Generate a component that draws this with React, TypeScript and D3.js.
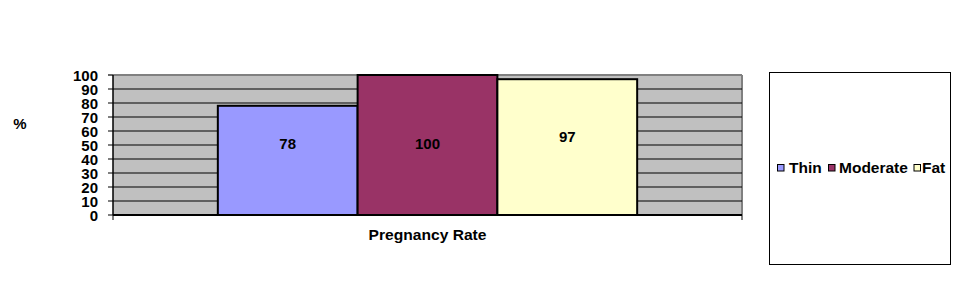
import React from "react";
import * as d3 from "d3";

const categories = ["Pregnancy Rate"];
const seriesNames = ["Thin", "Moderate", "Fat"];
const seriesValues = [78, 100, 97];
const labelAt = [51, 51, 56];
const seriesColors = ["#9999ff", "#993366", "#ffffcc"];
const yTicks = [0, 10, 20, 30, 40, 50, 60, 70, 80, 90, 100];

const W = 971;
const H = 291;
const plot = { left: 113, right: 742, top: 75, bottom: 215 };
const FONT = "Liberation Sans, Arial, sans-serif";

function T({ x, y, anchor = "middle", children, fs = 15, len }: any) {
  return (
    <text
      x={x}
      y={y}
      textAnchor={anchor}
      dominantBaseline="central"
      fontFamily={FONT}
      fontWeight="bold"
      fontSize={fs}
      fill="#000"
      {...(len ? { textLength: len, lengthAdjust: "spacingAndGlyphs" } : {})}
    >
      {children}
    </text>
  );
}

export default function App() {
  const y = d3.scaleLinear().domain([0, 100]).range([plot.bottom, plot.top]);
  const x0 = d3
    .scaleBand()
    .domain(categories)
    .range([plot.left, plot.right])
    .paddingInner(0)
    .paddingOuter(0.25);
  const x1 = d3
    .scaleBand()
    .domain(seriesNames)
    .range([0, x0.bandwidth()])
    .padding(0);

  const legendItems = [
    { sq: 777, tx: 789 },
    { sq: 828, tx: 839 },
    { sq: 913.5, tx: 922 },
  ];

  return (
    <svg
      width={W}
      height={H}
      style={{ position: "absolute", left: 0, top: 0, background: "#fff" }}
    >
      <defs>
        <clipPath id="legclip">
          <rect x={770} y={73} width={180} height={191} />
        </clipPath>
      </defs>
      <rect x={0} y={0} width={W} height={H} fill="#fff" />
      {/* plot area */}
      <rect
        x={plot.left}
        y={plot.top}
        width={plot.right - plot.left}
        height={plot.bottom - plot.top}
        fill="#c0c0c0"
      />
      <line x1={plot.left} x2={plot.right} y1={plot.top} y2={plot.top} stroke="#808080" strokeWidth={2} />
      <line x1={plot.right} x2={plot.right} y1={plot.top} y2={plot.bottom} stroke="#808080" strokeWidth={2} />
      {yTicks.map((t) => (
        <g key={t}>
          <line
            x1={plot.left - 5}
            x2={t === 100 ? plot.left : plot.right}
            y1={y(t)}
            y2={y(t)}
            stroke="#000"
            strokeWidth={1.2}
          />
          <T x={98} y={y(t)} anchor="end" fs={15}>
            {t}
          </T>
        </g>
      ))}
      {/* bars */}
      {categories.map((c) => (
        <g key={c} transform={`translate(${x0(c)},0)`}>
          {seriesNames.map((s, i) => (
            <rect
              key={s}
              x={x1(s)}
              y={y(seriesValues[i])}
              width={x1.bandwidth()}
              height={y(0) - y(seriesValues[i])}
              fill={seriesColors[i]}
              stroke="#000"
              strokeWidth={2}
            />
          ))}
          {seriesNames.map((s, i) => (
            <T key={s} x={(x1(s) as number) + x1.bandwidth() / 2} y={y(labelAt[i])}>
              {seriesValues[i]}
            </T>
          ))}
        </g>
      ))}
      {/* axes */}
      <line x1={plot.left} x2={plot.left} y1={plot.top} y2={plot.bottom} stroke="#000" strokeWidth={1.5} />
      <line x1={plot.left} x2={plot.right} y1={plot.bottom} y2={plot.bottom} stroke="#000" strokeWidth={2} />
      <line x1={plot.left} x2={plot.left} y1={plot.bottom} y2={plot.bottom + 5} stroke="#000" strokeWidth={1} />
      <line x1={plot.right} x2={plot.right} y1={plot.bottom} y2={plot.bottom + 5} stroke="#000" strokeWidth={1} />
      <T x={x0(categories[0])! + x0.bandwidth() / 2} y={234} fs={15.5} len={118}>
        {categories[0]}
      </T>
      <T x={20} y={123}>%</T>
      {/* legend */}
      <rect x={769.5} y={72.5} width={181} height={192} fill="#fff" stroke="#000" strokeWidth={1} />
      <g clipPath="url(#legclip)">
        {seriesNames.map((s, i) => (
          <g key={s}>
            <rect
              x={legendItems[i].sq + 0.5}
              y={164.5}
              width={6.5}
              height={6.5}
              fill={seriesColors[i]}
              stroke="#000"
              strokeWidth={1}
            />
            <T x={legendItems[i].tx} y={167.5} anchor="start" fs={15.5}>
              {s}
            </T>
          </g>
        ))}
      </g>
    </svg>
  );
}
